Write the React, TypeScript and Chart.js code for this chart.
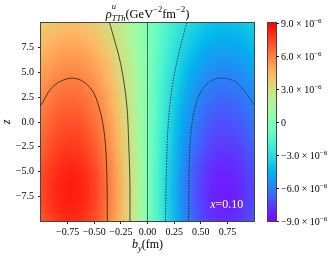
import React, { useEffect, useRef } from "react";
import { Chart, registerables } from "chart.js";
Chart.register(...registerables);

// ---- data (values in units of 1e-6 GeV^-2 fm^-2) ----
const bY = [-1.0, -0.9, -0.8, -0.7, -0.6, -0.5, -0.4, -0.3, -0.2, -0.1, 0, 0.1, 0.2, 0.3, 0.4, 0.5, 0.6, 0.7, 0.8, 0.9, 1.0];
const zVals = [-10, -9, -8, -7, -6, -5, -4, -3, -2, -1, 0, 1, 2, 3, 4, 5, 6, 7, 8, 9, 10];
// one row per z value (bottom to top), one entry per b_y value (left to right)
const rhoRows = [
  [7.01, 7.58, 7.94, 8.03, 7.80, 7.23, 6.31, 5.06, 3.54, 1.82, 0, -1.82, -3.54, -5.06, -6.31, -7.23, -7.80, -8.03, -7.94, -7.58, -7.01],
  [7.17, 7.75, 8.11, 8.20, 7.97, 7.39, 6.44, 5.17, 3.62, 1.86, 0, -1.86, -3.62, -5.17, -6.44, -7.39, -7.97, -8.20, -8.11, -7.75, -7.17],
  [7.28, 7.87, 8.24, 8.34, 8.10, 7.50, 6.55, 5.25, 3.67, 1.89, 0, -1.89, -3.67, -5.25, -6.55, -7.50, -8.10, -8.34, -8.24, -7.87, -7.28],
  [7.32, 7.91, 8.28, 8.38, 8.14, 7.54, 6.58, 5.28, 3.69, 1.90, 0, -1.90, -3.69, -5.28, -6.58, -7.54, -8.14, -8.38, -8.28, -7.91, -7.32],
  [7.28, 7.87, 8.24, 8.34, 8.10, 7.50, 6.55, 5.25, 3.67, 1.89, 0, -1.89, -3.67, -5.25, -6.55, -7.50, -8.10, -8.34, -8.24, -7.87, -7.28],
  [7.17, 7.75, 8.11, 8.20, 7.97, 7.39, 6.44, 5.17, 3.62, 1.86, 0, -1.86, -3.62, -5.17, -6.44, -7.39, -7.97, -8.20, -8.11, -7.75, -7.17],
  [7.01, 7.58, 7.94, 8.03, 7.80, 7.23, 6.31, 5.06, 3.54, 1.82, 0, -1.82, -3.54, -5.06, -6.31, -7.23, -7.80, -8.03, -7.94, -7.58, -7.01],
  [6.82, 7.38, 7.72, 7.81, 7.59, 7.03, 6.14, 4.92, 3.44, 1.77, 0, -1.77, -3.44, -4.92, -6.14, -7.03, -7.59, -7.81, -7.72, -7.38, -6.82],
  [6.63, 7.17, 7.51, 7.59, 7.38, 6.84, 5.96, 4.79, 3.35, 1.72, 0, -1.72, -3.35, -4.79, -5.96, -6.84, -7.38, -7.59, -7.51, -7.17, -6.63],
  [6.44, 6.96, 7.29, 7.38, 7.17, 6.64, 5.79, 4.65, 3.25, 1.67, 0, -1.67, -3.25, -4.65, -5.79, -6.64, -7.17, -7.38, -7.29, -6.96, -6.44],
  [6.25, 6.76, 7.08, 7.16, 6.95, 6.44, 5.62, 4.51, 3.16, 1.62, 0, -1.62, -3.16, -4.51, -5.62, -6.44, -6.95, -7.16, -7.08, -6.76, -6.25],
  [6.06, 6.55, 6.86, 6.94, 6.74, 6.25, 5.45, 4.37, 3.06, 1.57, 0, -1.57, -3.06, -4.37, -5.45, -6.25, -6.74, -6.94, -6.86, -6.55, -6.06],
  [5.83, 6.31, 6.60, 6.68, 6.49, 6.01, 5.24, 4.21, 2.94, 1.51, 0, -1.51, -2.94, -4.21, -5.24, -6.01, -6.49, -6.68, -6.60, -6.31, -5.83],
  [5.60, 6.06, 6.34, 6.42, 6.23, 5.78, 5.04, 4.04, 2.83, 1.46, 0, -1.46, -2.83, -4.04, -5.04, -5.78, -6.23, -6.42, -6.34, -6.06, -5.60],
  [5.34, 5.77, 6.04, 6.11, 5.94, 5.50, 4.80, 3.85, 2.69, 1.39, 0, -1.39, -2.69, -3.85, -4.80, -5.50, -5.94, -6.11, -6.04, -5.77, -5.34],
  [5.07, 5.48, 5.74, 5.80, 5.64, 5.23, 4.56, 3.66, 2.56, 1.32, 0, -1.32, -2.56, -3.66, -4.56, -5.23, -5.64, -5.80, -5.74, -5.48, -5.07],
  [4.80, 5.19, 5.44, 5.50, 5.34, 4.95, 4.32, 3.47, 2.42, 1.25, 0, -1.25, -2.42, -3.47, -4.32, -4.95, -5.34, -5.50, -5.44, -5.19, -4.80],
  [4.50, 4.86, 5.09, 5.15, 5.00, 4.64, 4.05, 3.25, 2.27, 1.17, 0, -1.17, -2.27, -3.25, -4.05, -4.64, -5.00, -5.15, -5.09, -4.86, -4.50],
  [4.19, 4.53, 4.75, 4.80, 4.66, 4.32, 3.77, 3.03, 2.12, 1.09, 0, -1.09, -2.12, -3.03, -3.77, -4.32, -4.66, -4.80, -4.75, -4.53, -4.19],
  [3.89, 4.20, 4.40, 4.45, 4.32, 4.01, 3.50, 2.81, 1.96, 1.01, 0, -1.01, -1.96, -2.81, -3.50, -4.01, -4.32, -4.45, -4.40, -4.20, -3.89],
  [3.62, 3.91, 4.10, 4.15, 4.03, 3.73, 3.26, 2.61, 1.83, 0.94, 0, -0.94, -1.83, -2.61, -3.26, -3.73, -4.03, -4.15, -4.10, -3.91, -3.62],
];

// contour lines: [b_y, z]
const contourPos3 = [[-0.165, -10], [-0.165, -6.5], [-0.175, -2.5], [-0.196, 1.9], [-0.252, 5.9], [-0.308, 8.2], [-0.356, 10]];
const contourPos6 = [[-1.0, 1.7], [-0.906, 3.37], [-0.813, 4.13], [-0.704, 4.43], [-0.595, 4.03], [-0.502, 2.87], [-0.44, 0.87], [-0.402, -1.47], [-0.383, -4.8], [-0.377, -10]];
const contourZero = [[0, -10], [0, 10]];
const contourNeg3 = [[0.168, -10], [0.178, -4.8], [0.193, -0.47], [0.231, 3.53], [0.293, 6.87], [0.368, 10]];
const contourNeg6 = [[1.0, 1.75], [0.916, 3.03], [0.822, 4.1], [0.713, 4.43], [0.605, 4.2], [0.511, 3.2], [0.449, 1.53], [0.411, -0.8], [0.393, -3.8], [0.386, -10]];

const xTicks = [-0.75, -0.5, -0.25, 0, 0.25, 0.5, 0.75];
const yTicks = [-7.5, -5, -2.5, 0, 2.5, 5, 7.5];
const cbTicks = [-9, -6, -3, 0, 3, 6, 9];
const CB_MIN = -9;
const CB_MAX = 9;

const FONT = "'Liberation Serif', 'DejaVu Serif', serif";

function rainbow(v: number): [number, number, number] {
  const t = Math.min(1, Math.max(0, (v - CB_MIN) / (CB_MAX - CB_MIN)));
  const r = Math.min(1, Math.abs(2 * t - 0.5));
  const g = Math.sin(Math.PI * t);
  const b = Math.cos((Math.PI * t) / 2);
  return [Math.round(r * 255), Math.round(g * 255), Math.round(b * 255)];
}

const minus = (s: string) => s.replace("-", "\u2212");

type Seg = { t: string; italic?: boolean; size: number; dy?: number; stack?: Seg };

function segFont(s: Seg) {
  return `${s.italic ? "italic " : ""}${s.size}px ${FONT}`;
}

function drawSegs(ctx: CanvasRenderingContext2D, segs: Seg[], cx: number, baseline: number, align: "center" | "right" | "left", color: string) {
  ctx.save();
  ctx.textBaseline = "alphabetic";
  ctx.textAlign = "left";
  ctx.fillStyle = color;
  const widths = segs.map((s) => {
    ctx.font = segFont(s);
    let w = ctx.measureText(s.t).width;
    if (s.stack) {
      ctx.font = segFont(s.stack);
      w = Math.max(w, ctx.measureText(s.stack.t).width);
    }
    return w;
  });
  const total = widths.reduce((a, b) => a + b, 0);
  let x = align === "center" ? cx - total / 2 : align === "right" ? cx - total : cx;
  segs.forEach((s, i) => {
    ctx.font = segFont(s);
    ctx.fillText(s.t, x, baseline + (s.dy || 0));
    if (s.stack) {
      ctx.font = segFont(s.stack);
      ctx.fillText(s.stack.t, x, baseline + (s.stack.dy || 0));
    }
    x += widths[i];
  });
  ctx.restore();
}

const heatmapPlugin = {
  id: "heatmap",
  beforeDatasetsDraw(chart: any) {
    const { ctx, chartArea, scales } = chart;
    const xs = scales.x;
    const ys = scales.y;
    const nx = bY.length;
    const nz = zVals.length;
    const off = document.createElement("canvas");
    off.width = nx;
    off.height = nz;
    const octx = off.getContext("2d")!;
    const img = octx.createImageData(nx, nz);
    for (let j = 0; j < nz; j++) {
      for (let i = 0; i < nx; i++) {
        const [r, g, b] = rainbow(rhoRows[j][i]);
        const idx = ((nz - 1 - j) * nx + i) * 4;
        img.data[idx] = r;
        img.data[idx + 1] = g;
        img.data[idx + 2] = b;
        img.data[idx + 3] = 255;
      }
    }
    octx.putImageData(img, 0, 0);
    const hx = (bY[1] - bY[0]) / 2;
    const hz = (zVals[1] - zVals[0]) / 2;
    const x0 = xs.getPixelForValue(bY[0] - hx);
    const x1 = xs.getPixelForValue(bY[nx - 1] + hx);
    const y0 = ys.getPixelForValue(zVals[nz - 1] + hz);
    const y1 = ys.getPixelForValue(zVals[0] - hz);
    ctx.save();
    ctx.beginPath();
    ctx.rect(chartArea.left, chartArea.top, chartArea.right - chartArea.left, chartArea.bottom - chartArea.top);
    ctx.clip();
    ctx.imageSmoothingEnabled = true;
    (ctx as any).imageSmoothingQuality = "high";
    ctx.drawImage(off, x0, y0, x1 - x0, y1 - y0);
    ctx.restore();
  },
  afterDatasetsDraw(chart: any) {
    const { ctx, chartArea } = chart;
    ctx.save();
    ctx.strokeStyle = "#444";
    ctx.lineWidth = 1;
    ctx.strokeRect(chartArea.left - 0.5, chartArea.top - 0.5, chartArea.right - chartArea.left + 1, chartArea.bottom - chartArea.top + 1);
    ctx.restore();
  },
  afterDraw(chart: any) {
    const { ctx, chartArea, scales } = chart;
    const cx = (chartArea.left + chartArea.right) / 2;
    // title
    drawSegs(
      ctx,
      [
        { t: "\u03c1", italic: true, size: 12.5 },
        { t: "u", italic: true, size: 8.5, dy: -9, stack: { t: "TTh", italic: true, size: 8.5, dy: 3 } },
        { t: "(GeV", size: 12.5 },
        { t: "\u22122", size: 8.5, dy: -6 },
        { t: "fm", size: 12.5 },
        { t: "\u22122", size: 8.5, dy: -6 },
        { t: ")", size: 12.5 },
      ],
      cx,
      18,
      "center",
      "#000"
    );
    // x axis title
    drawSegs(
      ctx,
      [
        { t: "b", italic: true, size: 12 },
        { t: "y", italic: true, size: 8.5, dy: 3 },
        { t: "(fm)", size: 12 },
      ],
      cx,
      248,
      "center",
      "#000"
    );
    // y axis title
    ctx.save();
    ctx.translate(10, (chartArea.top + chartArea.bottom) / 2);
    ctx.rotate(-Math.PI / 2);
    ctx.font = `italic 12px ${FONT}`;
    ctx.fillStyle = "#000";
    ctx.textAlign = "center";
    ctx.textBaseline = "alphabetic";
    ctx.fillText("z", 0, 0);
    ctx.restore();
    // annotation
    drawSegs(
      ctx,
      [
        { t: "x", italic: true, size: 12 },
        { t: "=0.10", size: 12 },
      ],
      scales.x.getPixelForValue(0.9),
      scales.y.getPixelForValue(-8.7),
      "right",
      "#fff"
    );
  },
};

const colorbarPlugin = {
  id: "colorbar",
  afterDraw(chart: any) {
    const { ctx, chartArea, scales } = chart;
    const ys = scales.y;
    const top = ys.getPixelForValue(CB_MAX);
    const bot = ys.getPixelForValue(CB_MIN);
    const grad = ctx.createLinearGradient(0, bot, 0, top);
    for (let k = 0; k <= 36; k++) {
      const v = CB_MIN + ((CB_MAX - CB_MIN) * k) / 36;
      const [r, g, b] = rainbow(v);
      grad.addColorStop(k / 36, `rgb(${r},${g},${b})`);
    }
    ctx.save();
    ctx.fillStyle = grad;
    ctx.fillRect(chartArea.left, top, chartArea.right - chartArea.left, bot - top);
    ctx.strokeStyle = "#444";
    ctx.lineWidth = 1;
    ctx.strokeRect(chartArea.left - 0.5, top - 0.5, chartArea.right - chartArea.left + 1, bot - top + 1);
    ctx.strokeStyle = "#222";
    cbTicks.forEach((v) => {
      const y = Math.round(ys.getPixelForValue(v)) + 0.5;
      ctx.beginPath();
      ctx.moveTo(chartArea.right, y);
      ctx.lineTo(chartArea.right + 3, y);
      ctx.stroke();
      const x = chartArea.right + 5;
      if (v === 0) {
        drawSegs(ctx, [{ t: "0", size: 10 }], x, y + 3.5, "left", "#000");
      } else {
        const main = (v < 0 ? "\u2212" : "") + Math.abs(v).toFixed(1) + " \u00d7 10";
        drawSegs(ctx, [{ t: main, size: 10 }, { t: "\u22126", size: 7, dy: -4.5 }], x, y + 3.5, "left", "#000");
      }
    });
    ctx.restore();
  },
};

function toPts(arr: number[][]) {
  return arr.map(([x, y]) => ({ x, y }));
}

export default function App() {
  const mainRef = useRef<HTMLCanvasElement>(null);
  const cbRef = useRef<HTMLCanvasElement>(null);

  useEffect(() => {
    const lineBase = { showLine: true, pointRadius: 0, borderWidth: 0.9, tension: 0.35, fill: false };
    const solid = "rgba(25,25,25,0.85)";
    const main = new Chart(mainRef.current!, {
      type: "scatter",
      data: {
        datasets: [
          { ...lineBase, data: toPts(contourPos3), borderColor: solid },
          { ...lineBase, data: toPts(contourPos6), borderColor: solid },
          { ...lineBase, data: toPts(contourZero), borderColor: "rgba(40,40,40,0.75)", tension: 0 },
          { ...lineBase, data: toPts(contourNeg3), borderColor: solid, borderDash: [1.6, 1.2] },
          { ...lineBase, data: toPts(contourNeg6), borderColor: solid, borderDash: [1.6, 1.2] },
        ] as any,
      },
      options: {
        responsive: false,
        animation: false,
        devicePixelRatio: 1,
        layout: { padding: { left: 0, right: 81, top: 23, bottom: 0 } },
        plugins: { legend: { display: false }, tooltip: { enabled: false }, title: { display: false } },
        scales: {
          x: {
            type: "linear",
            min: -1,
            max: 1,
            afterBuildTicks: (s: any) => {
              s.ticks = xTicks.map((v) => ({ value: v }));
            },
            afterFit: (s: any) => {
              s.height = 38;
            },
            ticks: {
              callback: (v: any) => minus(Number(v).toFixed(2)),
              font: { family: FONT, size: 10 },
              color: "#000",
              padding: 2,
              maxRotation: 0,
              autoSkip: false,
            },
            grid: { display: true, drawOnChartArea: false, drawTicks: true, tickLength: 3, color: "#222" },
            border: { display: false },
          },
          y: {
            type: "linear",
            min: -10,
            max: 10,
            afterBuildTicks: (s: any) => {
              s.ticks = yTicks.map((v) => ({ value: v }));
            },
            afterFit: (s: any) => {
              s.width = 41;
            },
            ticks: {
              callback: (v: any) => minus(Number(v).toFixed(1)),
              font: { family: FONT, size: 10 },
              color: "#000",
              padding: 4,
              autoSkip: false,
            },
            grid: { display: true, drawOnChartArea: false, drawTicks: true, tickLength: 3, color: "#222" },
            border: { display: false },
          },
        },
      } as any,
      plugins: [heatmapPlugin],
    });

    const cb = new Chart(cbRef.current!, {
      type: "scatter",
      data: { datasets: [] },
      options: {
        responsive: false,
        animation: false,
        devicePixelRatio: 1,
        layout: { padding: { left: 268, right: 0, top: 23, bottom: 38 } },
        plugins: { legend: { display: false }, tooltip: { enabled: false } },
        scales: {
          x: { type: "linear", display: false },
          y: {
            type: "linear",
            position: "right",
            min: CB_MIN,
            max: CB_MAX,
            afterBuildTicks: (s: any) => {
              s.ticks = cbTicks.map((v) => ({ value: v }));
            },
            afterFit: (s: any) => {
              s.width = 59;
            },
            ticks: { display: false },
            grid: { display: false },
            border: { display: false },
          },
        },
      } as any,
      plugins: [colorbarPlugin],
    });

    return () => {
      main.destroy();
      cb.destroy();
    };
  }, []);

  return (
    <div style={{ position: "absolute", left: 0, top: 0, width: 335, height: 259, background: "#fff" }}>
      <canvas ref={mainRef} width={335} height={259} style={{ position: "absolute", left: 0, top: 0 }} />
      <canvas ref={cbRef} width={335} height={259} style={{ position: "absolute", left: 0, top: 0 }} />
    </div>
  );
}
